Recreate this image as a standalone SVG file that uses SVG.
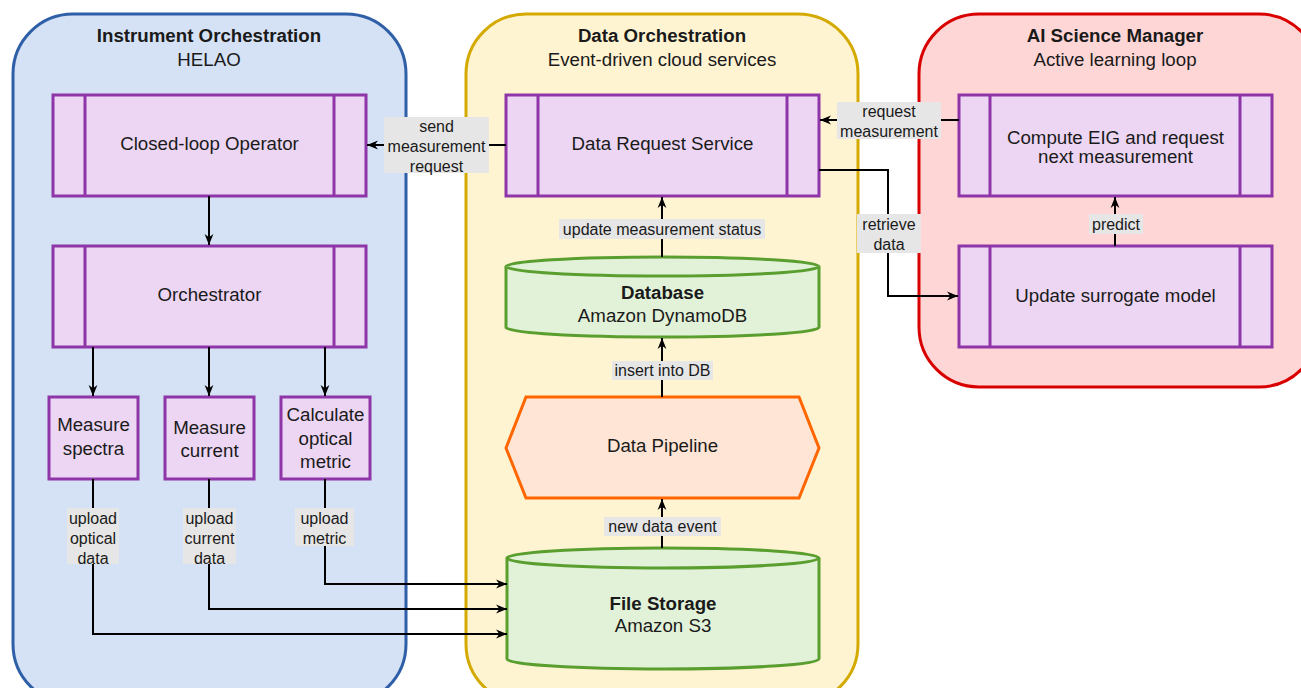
<svg xmlns="http://www.w3.org/2000/svg" width="1301" height="688" viewBox="0 0 1301 688">
<defs>
<style>
text{font-family:"Liberation Sans",Arial,sans-serif;fill:#1a1a1a;text-anchor:middle;dominant-baseline:central}
.t{font-size:18.7px}
.b{font-weight:bold}
.l{font-size:16px}
.proc{fill:#ecd6f3;stroke:#8e35a8;stroke-width:3}
.pl{fill:none;stroke:#8e35a8;stroke-width:3}
.cyl{fill:#e2f2d8;stroke:#5a9e2f;stroke-width:3}
.lbl{fill:#e6e6e6}
.c{fill:none;stroke:#000;stroke-width:2}
</style>
<marker id="a" viewBox="0 0 10 10" markerUnits="userSpaceOnUse" markerWidth="11" markerHeight="11" refX="10" refY="5" orient="auto">
<path d="M0,1 L10,5 L0,9 L3,5 Z" fill="#000"/>
</marker>
</defs>
<g id="instrument-orchestration">
<rect x="13" y="14" width="393" height="690" rx="60" fill="#d5e1f4" stroke="#2f5fa7" stroke-width="3"/>
<text x="209" y="35" class="t b">Instrument Orchestration</text>
<text x="209" y="59" class="t">HELAO</text>
</g>
<g id="data-orchestration">
<rect x="466" y="14" width="392" height="690" rx="60" fill="#fff4d2" stroke="#d4aa00" stroke-width="3"/>
<text x="662" y="35" class="t b">Data Orchestration</text>
<text x="662" y="59" class="t">Event-driven cloud services</text>
</g>
<g id="ai-science-manager">
<rect x="919" y="14" width="400" height="373" rx="60" fill="#ffd6d6" stroke="#d90000" stroke-width="3"/>
<text x="1115" y="35" class="t b">AI Science Manager</text>
<text x="1115" y="59" class="t">Active learning loop</text>
</g>
<g id="closed-loop-operator">
<rect class="proc" x="53" y="95" width="313" height="101"/>
<path class="pl" d="M85,95 V196 M334,95 V196"/>
<text x="209.5" y="143" class="t">Closed-loop Operator</text>
</g>
<g id="orchestrator">
<rect class="proc" x="53" y="246" width="313" height="101"/>
<path class="pl" d="M85,246 V347 M334,246 V347"/>
<text x="209.5" y="294" class="t">Orchestrator</text>
</g>
<g id="measure-spectra">
<rect class="proc" x="49" y="397" width="89" height="82"/>
<text x="93.5" y="424" class="t">Measure</text>
<text x="93.5" y="448" class="t">spectra</text>
</g>
<g id="measure-current">
<rect class="proc" x="165" y="397" width="89" height="82"/>
<text x="209.5" y="427" class="t">Measure</text>
<text x="209.5" y="450" class="t">current</text>
</g>
<g id="calculate-optical-metric">
<rect class="proc" x="281" y="397" width="89" height="82"/>
<text x="325.5" y="414" class="t">Calculate</text>
<text x="325.5" y="438" class="t">optical</text>
<text x="325.5" y="461" class="t">metric</text>
</g>
<g id="data-request-service">
<rect class="proc" x="506" y="95" width="313" height="101"/>
<path class="pl" d="M538,95 V196 M787,95 V196"/>
<text x="662.5" y="143" class="t">Data Request Service</text>
</g>
<g id="database">
<path class="cyl" d="M506,266.5 A156.5,9.5 0 0 1 819,266.5 L819,327.5 A156.5,9.5 0 0 1 506,327.5 Z"/>
<path class="cyl" fill="none" d="M506,266.5 A156.5,9.5 0 0 0 819,266.5"/>
<text x="662.5" y="292" class="t b">Database</text>
<text x="662.5" y="315" class="t">Amazon DynamoDB</text>
</g>
<g id="data-pipeline">
<polygon points="506,448 526,397 799,397 819,448 799,498 526,498" fill="#ffe5d6" stroke="#ff6600" stroke-width="3"/>
<text x="662.5" y="445" class="t">Data Pipeline</text>
</g>
<g id="file-storage">
<path class="cyl" d="M507,558 A156,10 0 0 1 819,558 L819,659 A156,10 0 0 1 507,659 Z"/>
<path class="cyl" fill="none" d="M507,558 A156,10 0 0 0 819,558"/>
<text x="663" y="603" class="t b">File Storage</text>
<text x="663" y="625" class="t">Amazon S3</text>
</g>
<g id="compute-eig">
<rect class="proc" x="959" y="95" width="313" height="101"/>
<path class="pl" d="M990,95 V196 M1240,95 V196"/>
<text x="1115.5" y="137" class="t">Compute EIG and request</text>
<text x="1115.5" y="156" class="t">next measurement</text>
</g>
<g id="update-surrogate-model">
<rect class="proc" x="959" y="246" width="313" height="101"/>
<path class="pl" d="M990,246 V347 M1240,246 V347"/>
<text x="1115.5" y="295" class="t">Update surrogate model</text>
</g>
<g id="connectors">
<path class="c" marker-end="url(#a)" d="M506,145 L367,145"/>
<path class="c" marker-end="url(#a)" d="M959,120 L820,120"/>
<path class="c" marker-end="url(#a)" d="M819,170 L888,170 L888,296 L958,296"/>
<path class="c" marker-end="url(#a)" d="M1115,246 L1115,197"/>
<path class="c" marker-end="url(#a)" d="M662,257 L662,197"/>
<path class="c" marker-end="url(#a)" d="M662,397 L662,338"/>
<path class="c" marker-end="url(#a)" d="M662,548 L662,499"/>
<path class="c" marker-end="url(#a)" d="M209,196 L209,245"/>
<path class="c" marker-end="url(#a)" d="M93,347 L93,396"/>
<path class="c" marker-end="url(#a)" d="M209,347 L209,396"/>
<path class="c" marker-end="url(#a)" d="M325,347 L325,396"/>
<path class="c" marker-end="url(#a)" d="M93,479 L93,634 L507,634"/>
<path class="c" marker-end="url(#a)" d="M209,479 L209,609 L507,609"/>
<path class="c" marker-end="url(#a)" d="M325,479 L325,584 L507,584"/>
<g id="labels">
<rect class="lbl" x="384" y="117" width="105" height="56"/>
<text x="436.5" y="126" class="l">send</text>
<text x="436.5" y="146" class="l">measurement</text>
<text x="436.5" y="166" class="l">request</text>
<rect class="lbl" x="837" y="102" width="104" height="37"/>
<text x="889" y="111" class="l">request</text>
<text x="889" y="131" class="l">measurement</text>
<rect class="lbl" x="857" y="214" width="64" height="39"/>
<text x="889" y="224" class="l">retrieve</text>
<text x="889" y="244" class="l">data</text>
<rect class="lbl" x="1089" y="214" width="54" height="20"/>
<text x="1116" y="224" class="l">predict</text>
<rect class="lbl" x="559" y="219" width="206" height="20"/>
<text x="662" y="229" class="l">update measurement status</text>
<rect class="lbl" x="612" y="361" width="101" height="19"/>
<text x="662.5" y="370" class="l">insert into DB</text>
<rect class="lbl" x="604" y="517" width="117" height="19"/>
<text x="662.5" y="526" class="l">new data event</text>
<rect class="lbl" x="67" y="508" width="52" height="56"/>
<text x="93" y="518" class="l">upload</text>
<text x="93" y="538" class="l">optical</text>
<text x="93" y="558" class="l">data</text>
<rect class="lbl" x="183" y="508" width="53" height="56"/>
<text x="209.5" y="518" class="l">upload</text>
<text x="209.5" y="538" class="l">current</text>
<text x="209.5" y="558" class="l">data</text>
<rect class="lbl" x="295" y="508" width="59" height="38"/>
<text x="324.5" y="518" class="l">upload</text>
<text x="324.5" y="538" class="l">metric</text>
</g>
</g>
</svg>
